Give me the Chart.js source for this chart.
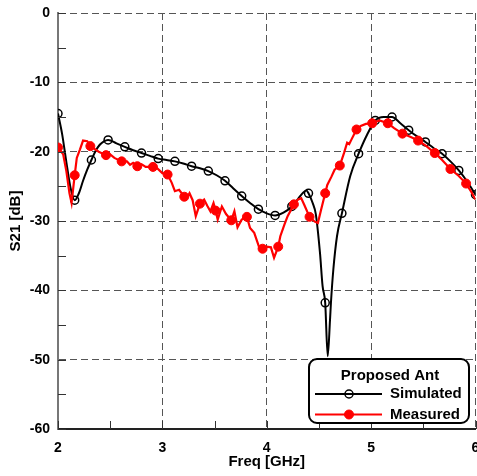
<!DOCTYPE html>
<html>
<head>
<meta charset="utf-8">
<title>S21 – Proposed Ant</title>
<script src="https://cdn.jsdelivr.net/npm/chart.js@4/dist/chart.umd.min.js"></script>
<style>
  html, body { margin: 0; padding: 0; background: #fff; overflow: hidden; }
  #wrap { width: 481px; height: 476px; }
</style>
</head>
<body>
<div id="wrap"><canvas id="c" width="481" height="476"></canvas></div>
<script>
// ---- Simulated S21 (GHz, dB) ----
const simFreq = [2.00, 2.04, 2.08, 2.12, 2.16, 2.20, 2.24, 2.28, 2.32, 2.36, 2.40, 2.44, 2.48, 2.56, 2.64, 2.72, 2.80, 2.88, 2.96, 3.04,
                 3.12, 3.20, 3.28, 3.36, 3.44, 3.52, 3.60, 3.68, 3.76, 3.84, 3.92, 4.00, 4.08, 4.16, 4.24, 4.30, 4.35, 4.38, 4.40, 4.44,
                 4.47, 4.51, 4.535, 4.56, 4.584, 4.606, 4.615, 4.638, 4.673, 4.72, 4.80, 4.88, 4.96, 5.04, 5.12, 5.20, 5.28, 5.36, 5.44, 5.52,
                 5.60, 5.68, 5.76, 5.84, 5.92, 6.00];
const simS21 = [-14.5, -17.5, -21.5, -25.2, -27.0, -26.0, -24.2, -22.6, -21.2, -19.9, -19.0, -18.5, -18.3, -18.8, -19.3, -19.8, -20.2, -20.6, -21.0, -21.2,
                -21.4, -21.7, -22.1, -22.4, -22.8, -23.4, -24.2, -25.3, -26.4, -27.4, -28.3, -28.9, -29.2, -28.8, -27.9, -26.8, -25.9, -25.6, -26.0, -27.4,
                -29.0, -34.6, -39.4, -41.8, -49.5, -44.3, -41.8, -37.0, -32.2, -28.9, -23.5, -20.3, -17.6, -15.5, -15.0, -15.0, -15.9, -16.9, -17.8, -18.6,
                -19.5, -20.3, -21.4, -22.7, -24.3, -26.2];
const simMarkFreq = [2.00, 2.16, 2.32, 2.48, 2.64, 2.80, 2.96, 3.12, 3.28, 3.44, 3.60, 3.76, 3.92, 4.08, 4.24, 4.40, 4.56, 4.72, 4.88, 5.04,
                     5.20, 5.36, 5.52, 5.68, 5.84, 6.00];

// ---- Measured S21 (GHz, dB) ----
const measFreq = [2.00, 2.05, 2.08, 2.11, 2.13, 2.16, 2.18, 2.21, 2.24, 2.28, 2.31, 2.34, 2.39, 2.46, 2.50, 2.54, 2.61, 2.66, 2.69, 2.72,
                  2.76, 2.80, 2.84, 2.91, 2.95, 3.00, 3.05, 3.09, 3.12, 3.16, 3.21, 3.23, 3.26, 3.29, 3.32, 3.36, 3.40, 3.43, 3.46, 3.49,
                  3.51, 3.53, 3.57, 3.61, 3.66, 3.69, 3.72, 3.76, 3.81, 3.84, 3.88, 3.93, 3.96, 4.00, 4.04, 4.07, 4.11, 4.13, 4.17, 4.20,
                  4.26, 4.30, 4.33, 4.36, 4.41, 4.46, 4.49, 4.52, 4.56, 4.58, 4.62, 4.65, 4.70, 4.74, 4.77, 4.79, 4.81, 4.86, 4.90, 4.95,
                  5.01, 5.08, 5.16, 5.22, 5.30, 5.38, 5.45, 5.53, 5.61, 5.68, 5.76, 5.84, 5.91, 5.96, 6.00];
const measS21 = [-19.4, -20.4, -22.8, -26.0, -27.4, -23.4, -20.9, -19.7, -18.4, -18.5, -19.2, -19.5, -20.0, -20.5, -20.4, -20.9, -21.4, -21.4, -21.9, -21.6,
                 -22.1, -21.8, -22.2, -22.2, -22.4, -23.1, -23.3, -24.5, -25.7, -25.5, -26.5, -26.8, -26.0, -27.0, -29.3, -27.5, -26.9, -27.8, -28.6, -27.4,
                 -28.5, -29.8, -27.9, -29.0, -29.9, -28.6, -30.9, -29.8, -29.4, -31.0, -31.7, -33.9, -34.0, -33.7, -33.8, -35.3, -33.7, -32.2, -30.5, -29.3,
                 -27.6, -26.9, -26.7, -27.7, -29.4, -30.1, -30.3, -28.4, -26.0, -24.8, -23.6, -22.6, -22.0, -20.2, -18.7, -18.9, -18.3, -16.8, -16.3, -16.0,
                 -15.9, -15.5, -15.9, -16.6, -17.4, -17.9, -18.4, -19.2, -20.2, -21.2, -22.5, -23.5, -24.6, -25.8, -26.9];
const measMarkFreq = [2.00, 2.16, 2.31, 2.46, 2.61, 2.76, 2.91, 3.05, 3.21, 3.36, 3.51, 3.66, 3.81, 3.96, 4.11, 4.26, 4.41, 4.56, 4.70, 4.86,
                      5.01, 5.16, 5.30, 5.45, 5.61, 5.76, 5.91];

// ---- Axes ----
const freqTicks = [2, 3, 4, 5, 6];
const s21Ticks = [0, -10, -20, -30, -40, -50, -60];
const freqMinorTicks = [2.5, 3.5, 4.5, 5.5];
const s21MinorTicks = [-5, -15, -25, -35, -45, -55];

const legendTitle = 'Proposed Ant';
const seriesNames = ['Simulated', 'Measured'];

const FONT = '"Liberation Sans", Arial, Helvetica, sans-serif';

const simSet = new Set(simMarkFreq);
const measSet = new Set(measMarkFreq);
const toPoints = (xs, ys) => xs.map((x, i) => ({ x: x, y: ys[i] }));

// inward tick marks along the left and bottom axes
const innerTicks = {
  id: 'innerTicks',
  afterDatasetsDraw(chart) {
    const { ctx, chartArea: a, scales: { x, y } } = chart;
    ctx.save();
    ctx.strokeStyle = '#333';
    ctx.lineWidth = 1;
    ctx.beginPath();
    s21Ticks.concat(s21MinorTicks).forEach(v => {
      const py = Math.round(y.getPixelForValue(v)) + 0.5;
      ctx.moveTo(a.left, py); ctx.lineTo(a.left + 8, py);
    });
    freqTicks.concat(freqMinorTicks).forEach(v => {
      const px = Math.round(x.getPixelForValue(v)) + 0.5;
      ctx.moveTo(px, a.bottom); ctx.lineTo(px, a.bottom - 8);
    });
    ctx.stroke();
    ctx.restore();
  }
};

// boxed legend in the lower-right corner of the plot
const boxLegend = {
  id: 'boxLegend',
  afterDraw(chart) {
    const { ctx, chartArea: a } = chart;
    const w = 160, h = 64, r = 8;
    const x0 = a.right - 6.5 - w, y0 = a.bottom - 6 - h;
    ctx.save();
    ctx.beginPath();
    ctx.moveTo(x0 + r, y0);
    ctx.arcTo(x0 + w, y0, x0 + w, y0 + h, r);
    ctx.arcTo(x0 + w, y0 + h, x0, y0 + h, r);
    ctx.arcTo(x0, y0 + h, x0, y0, r);
    ctx.arcTo(x0, y0, x0 + w, y0, r);
    ctx.closePath();
    ctx.fillStyle = '#fff';
    ctx.fill();
    ctx.lineWidth = 2;
    ctx.strokeStyle = '#000';
    ctx.stroke();

    ctx.fillStyle = '#000';
    ctx.font = 'bold 15px ' + FONT;
    ctx.textBaseline = 'middle';
    ctx.textAlign = 'center';
    ctx.fillText(legendTitle, x0 + 81, y0 + 17);

    const ds = chart.data.datasets;
    seriesNames.forEach((name, i) => {
      const d = ds.find(s => s.label === name);
      const ry = y0 + 35 + i * 20.5;
      const lx0 = x0 + 6, lx1 = x0 + 73, mx = x0 + 40;
      ctx.beginPath();
      ctx.moveTo(lx0, ry); ctx.lineTo(lx1, ry);
      ctx.lineWidth = d.borderWidth;
      ctx.strokeStyle = d.borderColor;
      ctx.stroke();
      ctx.beginPath();
      ctx.arc(mx, ry, d.legendRadius, 0, Math.PI * 2);
      if (d.legendFill) { ctx.fillStyle = d.pointBackgroundColor; ctx.fill(); }
      ctx.lineWidth = d.pointBorderWidth;
      ctx.strokeStyle = d.pointBorderColor;
      ctx.stroke();
      ctx.fillStyle = '#000';
      ctx.textAlign = 'left';
      ctx.fillText(name, x0 + 81, ry);
    });
    ctx.restore();
  }
};

new Chart(document.getElementById('c'), {
  type: 'line',
  data: {
    datasets: [
      {
        label: 'Measured',
        data: toPoints(measFreq, measS21),
        borderColor: '#ff0000',
        borderWidth: 2.2,
        tension: 0,
        pointRadius: c => measSet.has(c.raw.x) ? 4.5 : 0,
        pointBackgroundColor: '#ff0000',
        pointBorderColor: '#ff0000',
        pointBorderWidth: 1,
        legendRadius: 4.5,
        legendFill: true,
        order: 0
      },
      {
        label: 'Simulated',
        data: toPoints(simFreq, simS21),
        borderColor: '#000000',
        borderWidth: 2,
        cubicInterpolationMode: 'monotone',
        pointRadius: c => simSet.has(c.raw.x) ? 4 : 0,
        pointBackgroundColor: 'rgba(0,0,0,0)',
        pointBorderColor: '#000000',
        pointBorderWidth: 1.5,
        legendRadius: 4,
        legendFill: false,
        order: 1
      }
    ]
  },
  options: {
    responsive: false,
    animation: false,
    devicePixelRatio: 1,
    layout: { padding: { top: 13, right: 3, left: 0, bottom: 0 } },
    plugins: { legend: { display: false }, tooltip: { enabled: false } },
    scales: {
      x: {
        type: 'linear',
        position: 'bottom',
        min: 2, max: 6,
        afterBuildTicks: s => { s.ticks = freqTicks.map(v => ({ value: v })); },
        afterFit: s => { s.height = 47; s.paddingLeft = 0; s.paddingRight = 0; },
        grid: { color: '#555', lineWidth: 1, drawTicks: false },
        border: { display: true, color: '#222', width: 2, dash: [7, 4] },
        ticks: { padding: 11, color: '#000', font: { family: FONT, size: 14, weight: 'bold' }, maxRotation: 0 },
        title: { display: true, text: 'Freq [GHz]', color: '#000', padding: { top: 0, bottom: 5 },
                 font: { family: FONT, size: 15, weight: 'bold' } }
      },
      y: {
        type: 'linear',
        position: 'left',
        min: -60, max: 0,
        afterBuildTicks: s => { s.ticks = s21Ticks.slice().reverse().map(v => ({ value: v })); },
        afterFit: s => { s.width = 58; s.paddingTop = 0; s.paddingBottom = 0; },
        grid: { color: '#555', lineWidth: 1, drawTicks: false },
        border: { display: true, color: '#777', width: 2, dash: [7, 4] },
        ticks: { padding: 8, color: '#000', font: { family: FONT, size: 14, weight: 'bold' } },
        title: { display: true, text: 'S21 [dB]', color: '#000', padding: { top: 7, bottom: 0 },
                 font: { family: FONT, size: 15, weight: 'bold' } }
      }
    }
  },
  plugins: [innerTicks, boxLegend]
});
</script>
</body>
</html>
